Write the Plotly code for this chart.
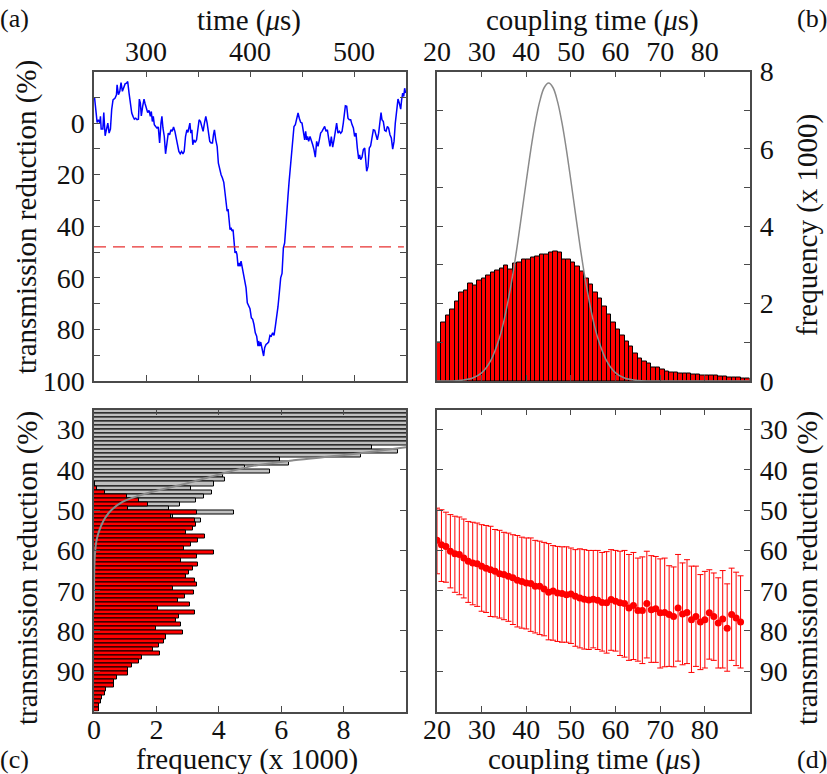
import plotly.graph_objects as go

# ---------------- data ----------------
# (a) time trace
TIME = [250.5, 251.8, 253.0, 254.3, 255.6, 256.2, 256.9, 258.5, 259.4, 260.7, 262.0, 263.3, 264.5, 265.8, 267.0,
        268.3, 270.3, 271.6, 272.2, 273.5, 274.8, 276.0, 277.3, 278.6, 279.9, 281.2, 282.4, 283.7, 285.0, 286.3,
        287.5, 288.8, 290.1, 291.4, 292.7, 293.6, 294.6, 295.5, 296.8, 298.1, 299.0, 300.3, 301.6, 302.9, 304.2,
        305.1, 306.1, 307.0, 308.0, 309.3, 310.5, 311.8, 313.1, 314.4, 315.3, 316.3, 317.6, 318.8, 320.1, 321.4,
        322.7, 324.0, 325.2, 326.5, 327.8, 329.1, 330.4, 331.6, 332.9, 334.2, 335.5, 336.7, 338.0, 339.3, 340.3,
        341.2, 342.2, 343.1, 344.1, 345.0, 346.0, 347.3, 348.6, 349.8, 351.1, 352.4, 353.7, 354.9, 356.2, 357.5,
        358.8, 360.1, 361.3, 362.6, 363.9, 364.9, 365.8, 367.1, 368.4, 369.6, 370.9, 372.2, 373.5, 374.8, 376.0,
        377.0, 378.0, 378.9, 379.9, 380.8, 381.8, 382.7, 383.7, 384.7, 385.6, 386.6, 387.5, 388.5, 389.5, 390.4,
        391.4, 392.3, 393.6, 394.9, 396.2, 397.4, 398.7, 400.0, 401.3, 402.6, 403.8, 405.1, 406.4, 407.7, 408.3,
        409.3, 410.3, 411.2, 412.2, 413.1, 414.1, 415.4, 416.7, 417.9, 419.2, 420.5, 421.8, 423.1, 424.4, 425.6,
        426.9, 428.2, 429.5, 430.8, 432.1, 433.3, 434.3, 435.3, 436.5, 437.5, 438.5, 439.4, 440.4, 441.3, 442.3,
        443.6, 444.9, 446.2, 447.4, 448.7, 450.0, 451.3, 452.6, 453.5, 454.5, 455.4, 456.4, 457.7, 459.0, 460.3,
        461.5, 462.8, 464.1, 465.4, 466.7, 467.9, 469.2, 470.5, 471.8, 473.1, 474.4, 475.6, 476.9, 478.2, 479.5,
        480.8, 482.1, 483.3, 484.6, 485.9, 487.2, 488.5, 489.7, 490.7, 491.7, 493.0, 494.2, 495.5, 496.8, 498.1,
        499.4, 500.6, 501.9, 503.2, 504.5, 505.4, 506.4, 507.7, 509.0, 510.3, 511.2, 512.2, 513.5, 514.7, 516.0,
        517.3, 518.6, 519.9, 521.2, 522.4, 523.7, 525.0, 526.0, 526.9, 528.2, 529.5, 530.8, 532.1, 533.3, 534.6,
        535.9, 537.2, 538.5, 539.7, 541.0, 542.3, 543.6, 544.9, 545.8, 546.8, 547.8, 548.7, 549.7]
TRANS = [-10.0, -5.2, -0.3, -1.3, 0.0, -2.6, 2.3, 2.3, -4.1, 4.9, 2.8, 0.0, 3.9, 2.3, -5.2,
         -9.0, -9.7, -11.0, -14.8, -11.0, -12.3, -15.7, -12.3, -13.5, -15.2, -15.5, -16.1, -11.6, -7.7, -3.9,
         -2.6, -1.5, -1.9, -1.3, -1.5, -9.3, -7.7, -2.8, -6.5, -9.3, -7.7, -6.2, -4.1, -4.9, -2.6,
         -4.5, -0.6, -2.6, 0.6, 1.3, 1.9, 1.5, 7.7, 0.0, -2.6, 1.9, 5.2, 11.9, 7.1, 3.9,
         4.5, 2.6, 3.2, 1.5, 3.2, 5.8, 8.4, 11.0, 11.9, 11.0, 11.9, 11.0, 5.2, 2.6, 3.6,
         1.3, 0.0, 3.9, 2.6, 8.4, 6.5, 7.5, 6.5, 2.6, -1.3, -0.6, 1.0, 3.2, 0.0, -2.6,
         0.0, 3.6, 7.1, 7.7, 7.7, 4.5, 2.6, 6.5, 9.0, 15.5, 18.1, 20.0, 21.3, 23.0, 27.1,
         32.3, 34.2, 33.3, 39.4, 41.3, 40.6, 41.9, 41.3, 45.2, 50.3, 49.7, 51.0, 55.5, 54.2, 55.5,
         53.5, 55.5, 58.7, 61.9, 63.9, 69.7, 71.2, 72.0, 75.5, 76.1, 78.1, 81.3, 82.6, 86.5, 84.5,
         86.5, 84.9, 87.1, 88.4, 90.3, 87.1, 85.8, 85.4, 84.9, 82.3, 82.6, 81.3, 82.3, 78.7, 75.5,
         71.2, 65.8, 60.0, 58.3, 48.4, 46.5, 40.0, 32.3, 28.4, 23.2, 18.1, 12.9, 8.4, 3.9, 1.3,
         0.6, -1.3, -3.9, -1.9, -0.3, 0.0, 2.6, 6.5, 3.2, 6.5, 5.2, 7.1, 5.2, 6.5, 8.4,
         10.3, 13.2, 7.1, 9.0, 6.5, 3.9, 3.2, 2.3, 1.3, 3.2, 2.6, 5.8, 9.0, 5.2, 9.3,
         6.5, 3.2, 0.0, 3.9, 3.2, 3.9, 3.2, 0.0, -4.5, -6.7, -6.5, -1.9, -1.3, -1.3, 0.6,
         1.9, 5.2, 3.9, 9.7, 13.9, 12.3, 14.2, 13.2, 10.3, 9.7, 14.8, 18.7, 16.8, 9.7, 8.8,
         5.8, 2.6, 2.8, 4.5, 6.5, 3.9, 0.0, -4.1, -1.3, -0.6, 2.8, 3.2, 1.3, 1.9, 4.5,
         5.8, 10.1, 7.1, 0.0, -5.2, -9.3, -7.7, -5.4, -9.0, -11.6, -10.3, -13.5, -11.6]
THRESHOLD = 48

# (b) coupling time histogram (bins of 1 us, left edges)
COUPLE_BINS = list(range(20, 90))
COUPLE_FREQ = [0.99, 1.50, 1.69, 1.84, 2.06, 2.28, 2.34, 2.51, 2.47, 2.61,
               2.66, 2.72, 2.80, 2.86, 2.92, 2.98, 2.87, 3.03, 3.07, 3.13,
               3.15, 3.19, 3.23, 3.27, 3.28, 3.32, 3.34, 3.31, 3.15, 3.15,
               3.06, 2.97, 2.83, 2.64, 2.49, 2.29, 2.12, 1.93, 1.71, 1.51,
               1.32, 1.18, 1.03, 0.88, 0.71, 0.57, 0.50, 0.45, 0.35, 0.34,
               0.31, 0.25, 0.23, 0.22, 0.20, 0.19, 0.19, 0.17, 0.16, 0.15,
               0.15, 0.14, 0.13, 0.12, 0.11, 0.10, 0.09, 0.08, 0.07, 0.07]
GAUSS_X = [20, 25, 28, 30, 32, 34, 35, 36, 37, 38, 39, 40, 41, 42, 43, 44, 45,
           46, 47, 48, 49, 50, 51, 52, 53, 54, 55, 56, 58, 60, 62, 65, 70, 90]
GAUSS_Y = [0.0, 0.013, 0.077, 0.21, 0.52, 1.12, 1.56, 2.12, 2.77, 3.52, 4.34, 5.17, 5.97, 6.67, 7.22, 7.58, 7.70,
           7.58, 7.22, 6.67, 5.97, 5.17, 4.34, 3.52, 2.77, 2.12, 1.56, 1.12, 0.52, 0.21, 0.077, 0.013, 0.0, 0.0]

# (c) transmission-reduction histograms (bins of 1 %, left edges 25..99)
TR_BINS = list(range(25, 100))
RED_FREQ = [0, 0, 0, 0, 0, 0, 0, 0, 0, 0, 0, 0, 0, 0, 0, 0, 0, 0,
            0.04, 0.10, 0.36, 1.07, 1.44, 1.73, 1.09, 3.30, 2.48, 3.23, 3.26, 3.17,
            2.96, 3.55, 3.33, 3.10, 2.88, 3.85, 3.30, 2.78, 3.33, 3.17, 3.03, 2.96,
            3.24, 3.31, 2.53, 3.19, 2.92, 2.70, 3.08, 2.05, 3.24, 2.72, 2.62, 2.79,
            2.00, 2.86, 2.31, 2.23, 2.07, 1.90, 2.10, 1.54, 1.44, 1.21, 1.09, 1.09,
            0.74, 0.63, 0.63, 0.38, 0.35, 0.25, 0.22, 0.16, 0.15]
GRAY_BINS = list(range(25, 54))
GRAY_FREQ = [60, 52, 44, 36, 29, 23, 18, 14, 11, 8.92, 9.74, 8.55, 5.97, 6.24, 4.83,
             5.64, 4.13, 4.20, 3.84, 3.10, 3.78, 3.52, 3.28, 2.75, 2.40, 4.48, 2.53, 3.44, 3.28]
NOISE_FREQ = [10.0, 8.9, 7.8, 6.4, 5.1, 4.3, 3.6, 2.9, 2.1, 1.4, 0.9, 0.55, 0.35, 0.22, 0.13, 0.07,
              0.04, 0.015, 0.005, 0.0, 0.0]
NOISE_TR = [34.4, 35.5, 36.5, 37.6, 39.0, 40.5, 42.0, 43.5, 45.0, 46.5, 48.0, 50.0, 52.0, 54.0, 56.0, 58.0,
            60.0, 63.0, 66.0, 70.0, 75.0]

# (d) mean transmission reduction vs coupling time
D_TIME = list(range(20, 89))
D_MEAN = [57.5, 58.6, 59.0, 60.2, 60.8, 61.0, 61.9, 62.7, 63.1, 63.3,
          63.9, 64.4, 64.8, 65.2, 65.8, 66.0, 66.4, 66.8, 67.4, 67.7,
          68.1, 68.2, 68.9, 68.9, 69.6, 70.4, 70.1, 70.6, 70.7, 71.0,
          70.8, 71.4, 71.8, 72.1, 72.3, 72.1, 72.4, 72.9, 73.0, 72.2,
          72.6, 73.0, 73.2, 74.3, 73.7, 74.9, 74.9, 73.2, 74.7, 74.5,
          75.5, 75.4, 75.9, 76.4, 74.3, 75.8, 75.4, 77.2, 76.4, 77.8,
          77.2, 75.5, 76.4, 78.0, 77.0, 79.3, 75.9, 76.8, 77.8]
D_LOW = [49.5, 49.9, 50.5, 51.1, 51.5, 51.7, 52.2, 52.8, 53.0, 53.2,
         53.6, 53.8, 54.0, 54.8, 55.0, 55.5, 55.7, 56.1, 56.3, 56.7,
         56.9, 56.9, 57.5, 57.7, 58.0, 58.3, 58.8, 59.0, 59.1, 59.1,
         59.4, 59.8, 59.6, 59.8, 60.0, 60.0, 60.0, 60.5, 60.3, 59.8,
         60.0, 60.2, 60.0, 61.0, 60.5, 61.9, 61.6, 60.2, 61.3, 61.5,
         62.1, 61.9, 63.8, 64.1, 61.0, 63.1, 62.3, 63.9, 63.9, 66.0,
         65.2, 64.8, 65.6, 66.8, 65.0, 68.3, 64.4, 65.4, 66.3]
D_HIGH = [65.8, 67.7, 67.9, 69.3, 70.4, 71.0, 71.8, 72.9, 73.5, 73.9,
          75.1, 75.4, 76.4, 76.5, 76.8, 77.2, 77.6, 78.4, 79.0, 79.3,
          79.5, 80.1, 80.5, 80.9, 81.2, 82.2, 82.3, 82.6, 82.8, 82.8,
          83.1, 83.8, 84.2, 84.5, 84.6, 84.2, 84.6, 85.0, 85.5, 84.8,
          85.0, 86.1, 86.5, 87.3, 87.1, 87.5, 88.1, 86.7, 87.8, 87.8,
          89.2, 88.9, 88.8, 88.9, 87.5, 88.4, 88.1, 90.3, 88.8, 89.6,
          89.2, 87.0, 87.3, 89.2, 89.2, 90.0, 87.3, 88.6, 89.2]

TIME_TICKS = [250, 300, 350, 400, 450, 500, 550]
TIME_LABELS = ["", "300", "", "400", "", "500", ""]
TRA_TICKS = [-20, -10, 0, 10, 20, 30, 40, 50, 60, 70, 80, 90, 100]
TRA_LABELS = ["", "", "0", "", "20", "", "40", "", "60", "", "80", "", "100"]
CT_TICKS = [20, 30, 40, 50, 60, 70, 80]
FREQ_B_TICKS = [0, 1, 2, 3, 4, 5, 6, 7, 8]
FREQ_B_LABELS = ["0", "", "2", "", "4", "", "6", "", "8"]
FREQ_C_TICKS = [0, 2, 4, 6, 8]
TR_TICKS = [30, 40, 50, 60, 70, 80, 90]

# ---------------- figure ----------------
FONT = "Liberation Serif"
TFS = 28
TITLE_FS = 29
AXC = "#4a4a4a"
TXT = "#111111"

fig = go.Figure()

# (a)
fig.add_trace(go.Scatter(x=TIME, y=TRANS, mode="lines", line=dict(color="#0000ff", width=1.5),
                         xaxis="x", yaxis="y", showlegend=False))
fig.add_trace(go.Scatter(x=[250, 548], y=[THRESHOLD, THRESHOLD], mode="lines",
                         line=dict(color="#e83030", width=1.2, dash="12px,7px"),
                         xaxis="x", yaxis="y", showlegend=False))

# (b)
fig.add_trace(go.Bar(x=[b + 0.5 for b in COUPLE_BINS], y=COUPLE_FREQ, width=1,
                     marker=dict(color="#ff0000", line=dict(color="#000000", width=1)),
                     xaxis="x2", yaxis="y2", showlegend=False))
fig.add_trace(go.Scatter(x=GAUSS_X, y=GAUSS_Y, mode="lines", line=dict(color="#8a8a8a", width=1.5, shape="spline"),
                         xaxis="x2", yaxis="y2", showlegend=False))

# (c)
fig.add_trace(go.Bar(y=[b + 0.5 for b in GRAY_BINS], x=GRAY_FREQ, width=1, orientation="h",
                     marker=dict(color="#c0c0c0", line=dict(color="#000000", width=1)),
                     xaxis="x3", yaxis="y3", showlegend=False))
fig.add_trace(go.Bar(y=[b + 0.5 for b in TR_BINS], x=RED_FREQ, width=1, orientation="h",
                     marker=dict(color="#ff0000", line=dict(color="#000000", width=1)),
                     xaxis="x3", yaxis="y3", showlegend=False))
fig.add_trace(go.Scatter(x=NOISE_FREQ, y=NOISE_TR, mode="lines",
                         line=dict(color="#8a8a8a", width=2, shape="spline"),
                         xaxis="x3", yaxis="y3", showlegend=False))

# (d)
fig.add_trace(go.Scatter(x=D_TIME, y=D_MEAN, mode="markers",
                         marker=dict(color="#ff0000", size=7),
                         error_y=dict(type="data", symmetric=False,
                                      array=[h - m for h, m in zip(D_HIGH, D_MEAN)],
                                      arrayminus=[m - l for m, l in zip(D_MEAN, D_LOW)],
                                      color="#ff0000", thickness=1, width=3),
                         xaxis="x4", yaxis="y4", showlegend=False))

XL = [94 / 827, 406 / 827]
XR = [437 / 827, 749.5 / 827]
YT = [1 - 381 / 774, 1 - 71.5 / 774]
YB = [1 - 711.5 / 774, 1 - 409.5 / 774]

common = dict(showgrid=False, zeroline=False, showline=True, linecolor=AXC, linewidth=1.5,
              mirror="allticks", ticks="inside", ticklen=6, tickwidth=1.2, tickcolor=AXC,
              automargin=False,
              tickfont=dict(family=FONT, size=TFS, color=TXT))

fig.update_layout(
    width=827, height=774, margin=dict(l=0, r=0, t=0, b=0, autoexpand=False),
    paper_bgcolor="white", plot_bgcolor="white", barmode="overlay", bargap=0,
    xaxis=dict(domain=XL, anchor="y", side="top", range=[250, 550], tickmode="array",
               tickvals=TIME_TICKS, ticktext=TIME_LABELS, ticklabelstandoff=-2, **common),
    yaxis=dict(domain=YT, anchor="x", range=[100, -20], tickmode="array",
               tickvals=TRA_TICKS, ticktext=TRA_LABELS, ticklabelstandoff=2, **common),
    xaxis2=dict(domain=XR, anchor="y2", side="top", range=[20, 90], tickmode="array",
                tickvals=CT_TICKS, ticklabelstandoff=-2, **common),
    yaxis2=dict(domain=YT, anchor="x2", side="right", range=[0, 8], tickmode="array",
                tickvals=FREQ_B_TICKS, ticktext=FREQ_B_LABELS, ticklabelstandoff=3, **common),
    xaxis3=dict(domain=XL, anchor="y3", range=[0, 10], tickmode="array",
                tickvals=FREQ_C_TICKS, ticklabelstandoff=-8, **common),
    yaxis3=dict(domain=YB, anchor="x3", range=[100, 25], tickmode="array",
                tickvals=TR_TICKS, ticklabelstandoff=2, **common),
    xaxis4=dict(domain=XR, anchor="y4", range=[20, 90], tickmode="array",
                tickvals=CT_TICKS, ticklabelstandoff=-8, **common),
    yaxis4=dict(domain=YB, anchor="x4", side="right", range=[100, 25], tickmode="array",
                tickvals=TR_TICKS, ticklabelstandoff=3, **common),
)

def ann(text, x, y, angle=0, size=TITLE_FS):
    fig.add_annotation(text=text, x=x / 827, y=1 - y / 774, xref="paper", yref="paper",
                       showarrow=False, textangle=angle, xanchor="center", yanchor="middle",
                       font=dict(family=FONT, size=size, color=TXT))

ann("time (<i>μ</i>s)", 249, 20)
ann("coupling time (<i>μ</i>s)", 592, 20)
ann("frequency (x 1000)", 247, 759)
ann("coupling time (<i>μ</i>s)", 594, 759)
ann("transmission reduction (%)", 27, 217, angle=-90)
ann("transmission reduction (%)", 27, 568, angle=-90)
ann("frequency (x 1000)", 807, 225, angle=-90)
ann("transmission reduction (%)", 807, 568, angle=-90)
ann("(a)", 14, 18, size=26)
ann("(b)", 812, 18, size=26)
ann("(c)", 14, 759, size=26)
ann("(d)", 812, 759, size=26)

fig.write_html("out.html")
